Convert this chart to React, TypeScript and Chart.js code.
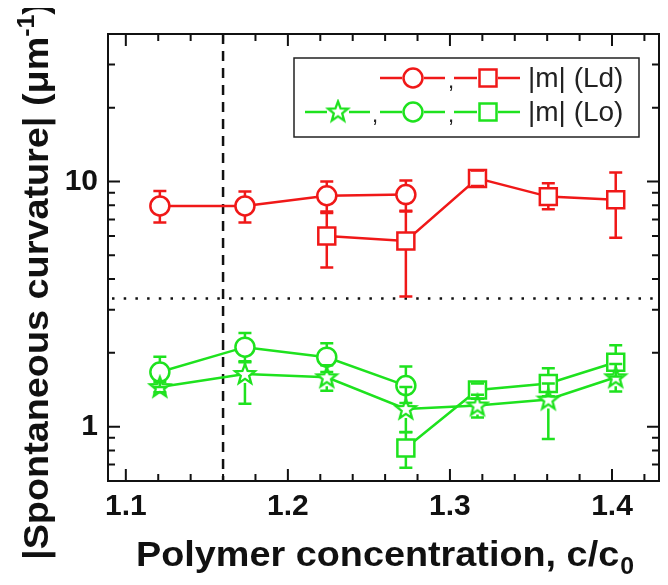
import React, { useEffect, useRef } from 'react';
import { Chart, registerables } from 'chart.js';

Chart.register(...registerables);

const RED = 'rgb(240, 24, 24)';
const GREEN = 'rgb(30, 226, 30)';

// |m| (Ld) circles
const ldCircleX = [1.121, 1.1735, 1.224, 1.2728];
const ldCircleY = [7.95, 7.95, 8.75, 8.85];
const ldCircleHi = [9.15, 9.1, 10.0, 10.1];
const ldCircleLo = [6.8, 6.8, 7.55, 7.55];

// |m| (Ld) squares
const ldSquareX = [1.224, 1.2728, 1.317, 1.3607, 1.4023];
const ldSquareY = [6.0, 5.72, 10.3, 8.68, 8.42];
const ldSquareHi = [7.45, 7.6, 11.1, 9.84, 10.9];
const ldSquareLo = [4.46, 3.4, 9.6, 7.7, 5.9];

// |m| (Lo) stars
const loStarX = [1.121, 1.1735, 1.224, 1.2728, 1.317, 1.3607, 1.4023];
const loStarY = [1.45, 1.64, 1.59, 1.18, 1.22, 1.29, 1.59];
const loStarHi = [1.52, 1.85, 1.78, 1.45, 1.35, 1.5, 1.8];
const loStarLo = [1.38, 1.24, 1.4, 0.95, 1.09, 0.89, 1.39];

// |m| (Lo) circles
const loCircleX = [1.121, 1.1735, 1.224, 1.2728];
const loCircleY = [1.67, 2.11, 1.92, 1.47];
const loCircleHi = [1.93, 2.41, 2.19, 1.76];
const loCircleLo = [1.45, 1.83, 1.67, 1.25];

// |m| (Lo) squares
const loSquareX = [1.2728, 1.317, 1.3607, 1.4023];
const loSquareY = [0.818, 1.41, 1.5, 1.83];
const loSquareHi = [0.948, 1.5, 1.73, 2.15];
const loSquareLo = [0.68, 1.3, 1.33, 1.6];

// axes
const xMin = 1.089;
const xMax = 1.429;
const yMin = 0.6;
const yMax = 40;
const xMajorTicks = [1.1, 1.2, 1.3, 1.4];
const xMinorTicks = [1.12, 1.14, 1.16, 1.18, 1.22, 1.24, 1.26, 1.28, 1.32, 1.34, 1.36, 1.38, 1.42];
const yMajorTicks = [1, 10];
const yMinorTicks = [0.7, 0.8, 0.9, 2, 3, 4, 5, 6, 7, 8, 9, 20, 30];
const xTickLabels = ['1.1', '1.2', '1.3', '1.4'];
const yTickLabels = ['1', '10'];

// reference lines
const refLineX = 1.16;
const refLineY = 3.33;

const xTitle = 'Polymer concentration, c/c';
const xTitleSub = '0';
const yTitle = '|Spontaneous curvature| (\u03BCm';
const yTitleSup = '-1';
const yTitleEnd = ')';
const legendLd = '|m| (Ld)';
const legendLo = '|m| (Lo)';

const FONT = '"Liberation Sans", Arial, Helvetica, sans-serif';

function pts(xs: number[], ys: number[]) {
  return xs.map((x, i) => ({ x, y: ys[i] }));
}

function drawStarPath(g: CanvasRenderingContext2D, cx: number, cy: number, R: number, r: number) {
  g.beginPath();
  for (let k = 0; k < 10; k++) {
    const ang = -Math.PI / 2 + (k * Math.PI) / 5;
    const rad = k % 2 === 0 ? R : r;
    const px = cx + rad * Math.cos(ang);
    const py = cy + rad * Math.sin(ang);
    if (k === 0) g.moveTo(px, py);
    else g.lineTo(px, py);
  }
  g.closePath();
}

function makeStar(color: string): HTMLCanvasElement {
  const c = document.createElement('canvas');
  c.width = 26;
  c.height = 26;
  const g = c.getContext('2d')!;
  drawStarPath(g, 13, 13.5, 10.5, 4.4);
  g.fillStyle = '#fff';
  g.fill();
  g.strokeStyle = color;
  g.lineWidth = 2.3;
  g.lineJoin = 'miter';
  g.stroke();
  return c;
}

export default function App() {
  const ref = useRef<HTMLCanvasElement | null>(null);

  useEffect(() => {
    if (!ref.current) return;
    const greenStar = makeStar(GREEN);

    const common = {
      showLine: true,
      borderWidth: 2.5,
      pointBorderWidth: 2.5,
      pointBackgroundColor: '#fff',
      tension: 0,
    };

    const datasets: any[] = [
      { ...common, label: 'Ld circle', data: pts(ldCircleX, ldCircleY), hi: ldCircleHi, lo: ldCircleLo, borderColor: RED, pointBorderColor: RED, pointStyle: 'circle', pointRadius: 9.5, half: 9.5 },
      { ...common, label: 'Ld square', data: pts(ldSquareX, ldSquareY), hi: ldSquareHi, lo: ldSquareLo, borderColor: RED, pointBorderColor: RED, pointStyle: 'rect', pointRadius: 12, half: 8.5 },
      { ...common, label: 'Lo star', data: pts(loStarX, loStarY), hi: loStarHi, lo: loStarLo, borderColor: GREEN, pointBorderColor: GREEN, pointStyle: greenStar, pointRadius: 10, half: 9 },
      { ...common, label: 'Lo circle', data: pts(loCircleX, loCircleY), hi: loCircleHi, lo: loCircleLo, borderColor: GREEN, pointBorderColor: GREEN, pointStyle: 'circle', pointRadius: 9.5, half: 9.5 },
      { ...common, label: 'Lo square', data: pts(loSquareX, loSquareY), hi: loSquareHi, lo: loSquareLo, borderColor: GREEN, pointBorderColor: GREEN, pointStyle: 'rect', pointRadius: 12, half: 8.5 },
    ];

    const refLines = {
      id: 'refLines',
      beforeDatasetsDraw(chart: any) {
        const { ctx, chartArea: a, scales } = chart;
        ctx.save();
        ctx.strokeStyle = '#111';
        ctx.lineWidth = 2.5;
        const px = scales.x.getPixelForValue(refLineX);
        ctx.setLineDash([10, 7]);
        ctx.beginPath();
        ctx.moveTo(px, a.top);
        ctx.lineTo(px, a.bottom);
        ctx.stroke();
        const py = scales.y.getPixelForValue(refLineY);
        ctx.setLineDash([2.5, 9.2]);
        ctx.beginPath();
        ctx.moveTo(a.left + 4, py);
        ctx.lineTo(a.right, py);
        ctx.stroke();
        ctx.restore();
      },
    };

    const errorBars = {
      id: 'errorBars',
      afterDatasetsDraw(chart: any) {
        const { ctx, scales } = chart;
        ctx.save();
        ctx.lineWidth = 2.5;
        chart.data.datasets.forEach((ds: any) => {
          ctx.strokeStyle = ds.borderColor;
          ds.data.forEach((p: any, i: number) => {
            const x = scales.x.getPixelForValue(p.x);
            const y = scales.y.getPixelForValue(p.y);
            const yh = scales.y.getPixelForValue(ds.hi[i]);
            const yl = scales.y.getPixelForValue(ds.lo[i]);
            const h = ds.half;
            ctx.beginPath();
            if (yh < y - h) {
              ctx.moveTo(x, y - h);
              ctx.lineTo(x, yh);
            }
            if (yl > y + h) {
              ctx.moveTo(x, y + h);
              ctx.lineTo(x, yl);
            }
            ctx.moveTo(x - 6.5, yh);
            ctx.lineTo(x + 6.5, yh);
            ctx.moveTo(x - 6.5, yl);
            ctx.lineTo(x + 6.5, yl);
            ctx.stroke();
          });
        });
        ctx.restore();
      },
    };

    const drawStretched = (ctx: CanvasRenderingContext2D, text: string, x: number, y: number, sx: number) => {
      ctx.save();
      ctx.translate(x, y);
      ctx.scale(sx, 1);
      ctx.fillText(text, 0, 0);
      ctx.restore();
    };

    const frame = {
      id: 'frame',
      afterDraw(chart: any) {
        const { ctx, chartArea: a, scales } = chart;
        ctx.save();
        ctx.strokeStyle = '#111';
        ctx.lineWidth = 2;
        ctx.strokeRect(a.left, a.top, a.right - a.left, a.bottom - a.top);
        ctx.beginPath();
        const xt = (v: number, len: number) => {
          const px = scales.x.getPixelForValue(v);
          ctx.moveTo(px, a.bottom);
          ctx.lineTo(px, a.bottom - len);
          ctx.moveTo(px, a.top);
          ctx.lineTo(px, a.top + len);
        };
        const yt = (v: number, len: number) => {
          const py = scales.y.getPixelForValue(v);
          ctx.moveTo(a.left, py);
          ctx.lineTo(a.left + len, py);
          ctx.moveTo(a.right, py);
          ctx.lineTo(a.right - len, py);
        };
        xMajorTicks.forEach((v) => xt(v, 12));
        xMinorTicks.forEach((v) => xt(v, 7));
        yMajorTicks.forEach((v) => yt(v, 12));
        yMinorTicks.forEach((v) => yt(v, 7));
        ctx.stroke();

        // axis titles (slightly widened, like the reference's typeface)
        const stretch = 1.08;
        ctx.fillStyle = '#111';
        ctx.textBaseline = 'alphabetic';
        ctx.textAlign = 'left';
        const big = `bold 35px ${FONT}`;
        const small = `bold 23px ${FONT}`;
        ctx.font = big;
        const w1 = ctx.measureText(xTitle).width * stretch;
        ctx.font = small;
        const w2 = ctx.measureText(xTitleSub).width * stretch;
        const cx = (a.left + a.right) / 2 + 1;
        const sx0 = cx - (w1 + w2) / 2;
        const by = 558;
        ctx.font = big;
        drawStretched(ctx, xTitle, sx0, by, stretch);
        ctx.font = small;
        drawStretched(ctx, xTitleSub, sx0 + w1 + 1, by + 8, stretch);

        // y title rotated
        ctx.save();
        ctx.translate(40, 273);
        ctx.rotate(-Math.PI / 2);
        ctx.font = big;
        const t1 = ctx.measureText(yTitle).width * stretch;
        const t3 = ctx.measureText(yTitleEnd).width * stretch;
        ctx.font = small;
        const t2 = ctx.measureText(yTitleSup).width * stretch;
        const ox = -(t1 + t2 + t3) / 2;
        ctx.font = big;
        drawStretched(ctx, yTitle, ox, 0, stretch);
        ctx.font = small;
        drawStretched(ctx, yTitleSup, ox + t1, -14, stretch);
        ctx.font = big;
        drawStretched(ctx, yTitleEnd, ox + t1 + t2, 0, stretch);
        ctx.restore();

        // legend
        const lx0 = 286, ly0 = 50, lx1 = 631, ly1 = 129;
        ctx.lineWidth = 1.5;
        ctx.strokeStyle = '#222';
        ctx.strokeRect(lx0, ly0, lx1 - lx0, ly1 - ly0);
        const seg = (color: string, x0: number, x1: number, y: number) => {
          ctx.strokeStyle = color;
          ctx.lineWidth = 2.5;
          ctx.beginPath();
          ctx.moveTo(x0, y);
          ctx.lineTo(x1, y);
          ctx.stroke();
        };
        const circ = (color: string, x: number, y: number) => {
          ctx.strokeStyle = color;
          ctx.lineWidth = 2.5;
          ctx.beginPath();
          ctx.arc(x, y, 9.5, 0, Math.PI * 2);
          ctx.stroke();
        };
        const sq = (color: string, x: number, y: number) => {
          ctx.strokeStyle = color;
          ctx.lineWidth = 2.5;
          ctx.strokeRect(x - 8.5, y - 8.5, 17, 17);
        };
        const comma = (x: number, y: number) => {
          ctx.fillStyle = '#222';
          ctx.font = `22px ${FONT}`;
          ctx.textAlign = 'center';
          ctx.textBaseline = 'middle';
          ctx.fillText(',', x, y + 4);
        };
        const r1 = 70, r2 = 104;
        seg(RED, 372, 394, r1); circ(RED, 405, r1); seg(RED, 416, 437, r1);
        comma(443, r1);
        seg(RED, 446, 469, r1); sq(RED, 480, r1); seg(RED, 490, 512, r1);
        seg(GREEN, 297, 319, r2);
        ctx.drawImage(greenStar, 330 - 13, r2 - 13.5);
        seg(GREEN, 341, 362, r2);
        comma(367, r2);
        seg(GREEN, 372, 394, r2); circ(GREEN, 405, r2); seg(GREEN, 416, 437, r2);
        comma(443, r2);
        seg(GREEN, 446, 469, r2); sq(GREEN, 480, r2); seg(GREEN, 490, 512, r2);
        ctx.fillStyle = '#222';
        ctx.font = `28px ${FONT}`;
        ctx.textAlign = 'left';
        ctx.textBaseline = 'middle';
        ctx.fillText(legendLd, 520, r1 + 1);
        ctx.fillText(legendLo, 520, r2 + 1);
        ctx.restore();
      },
    };

    const chart = new Chart(ref.current, {
      type: 'scatter',
      data: { datasets },
      plugins: [refLines, errorBars, frame],
      options: {
        animation: false,
        responsive: false,
        events: [],
        layout: { autoPadding: false, padding: { top: 26, right: 1, left: 0, bottom: 0 } },
        plugins: { legend: { display: false }, tooltip: { enabled: false } },
        scales: {
          x: {
            type: 'linear',
            min: xMin,
            max: xMax,
            afterBuildTicks: (s: any) => {
              s.ticks = xMajorTicks.map((v) => ({ value: v }));
            },
            afterFit: (s: any) => {
              s.height = 96;
              s.paddingLeft = 0;
              s.paddingRight = 0;
            },
            ticks: {
              callback: (v: any) => {
                const i = xMajorTicks.findIndex((t) => Math.abs(t - Number(v)) < 1e-6);
                return i >= 0 ? xTickLabels[i] : '';
              },
              color: '#111',
              font: { family: FONT, size: 30, weight: 'bold' },
              padding: 8,
              maxRotation: 0,
              autoSkip: false,
            },
            grid: { display: false, drawTicks: false },
            border: { display: false },
          },
          y: {
            type: 'logarithmic',
            min: yMin,
            max: yMax,
            afterBuildTicks: (s: any) => {
              s.ticks = yMajorTicks.map((v) => ({ value: v }));
            },
            afterFit: (s: any) => {
              s.width = 100;
              s.paddingTop = 0;
              s.paddingBottom = 0;
            },
            ticks: {
              callback: (v: any) => {
                const i = yMajorTicks.findIndex((t) => Math.abs(t - Number(v)) < 1e-6);
                return i >= 0 ? yTickLabels[i] : '';
              },
              color: '#111',
              font: { family: FONT, size: 30, weight: 'bold' },
              padding: 10,
              autoSkip: false,
            },
            grid: { display: false, drawTicks: false },
            border: { display: false },
          },
        },
      } as any,
    });
    return () => chart.destroy();
  }, []);

  return <canvas ref={ref} width={652} height={569} style={{ display: 'block' }} />;
}
